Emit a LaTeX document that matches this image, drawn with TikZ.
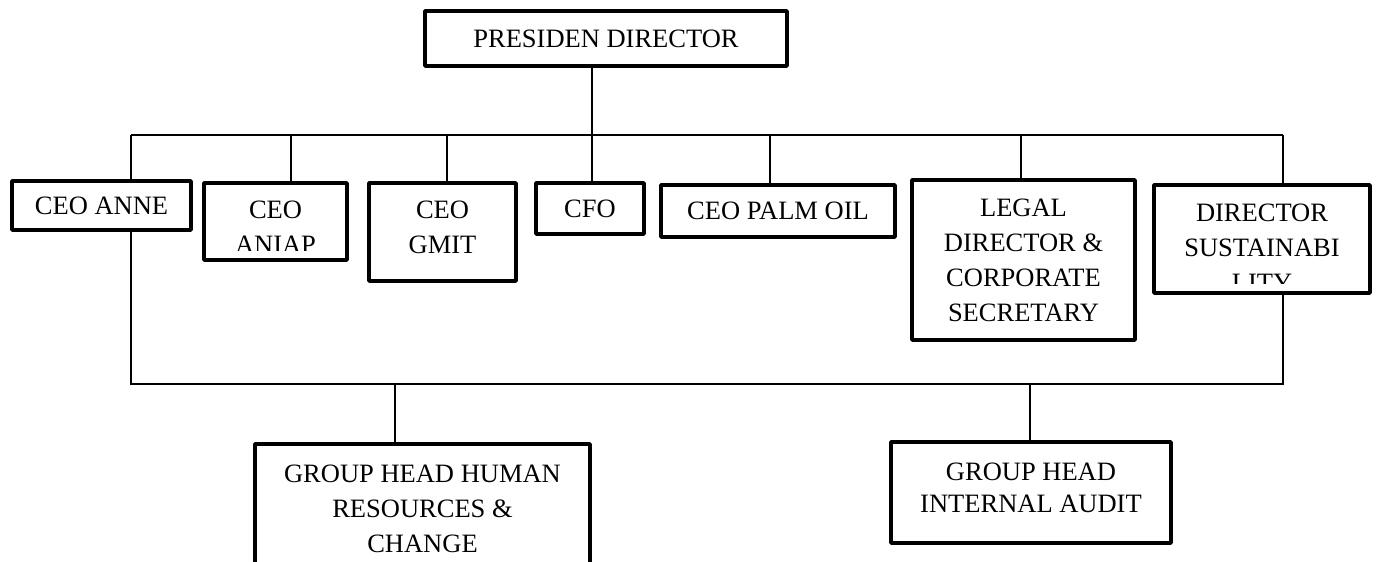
\documentclass[tikz,border=0pt]{standalone}
\usepackage{fontspec}
\setmainfont{Liberation Serif}
\usepackage{tikz}
\newcommand{\dropline}[2]{
\draw[link] (#1) -- (#1 |- #2);
}
\tikzset{
orgbox/.style={draw, line width=4.4pt, line join=round, inner sep=0pt, align=center,
  font=\fontsize{26.5}{35}\selectfont},
orgtext/.style={inner sep=0pt, align=center, anchor=north, font=\fontsize{26.5}{35}\selectfont},
link/.style={line width=1.7pt}
}

\begin{document}
\begin{tikzpicture}[x=1pt, y=-1pt]
\useasboundingbox (0, 0) rectangle (1379, 562);
\clip (0, 0) rectangle (1379, 562);
% boxes
\node[orgbox, minimum width=361.6pt, minimum height=54.6pt] at (606, 38.5) (pres) {PRESIDEN DIRECTOR};
\node[orgbox, minimum width=178.6pt, minimum height=48.6pt] at (101.5, 205.5) (anne) {CEO ANNE};
\node[orgbox, minimum width=142.6pt, minimum height=76.6pt] at (275.5, 221.5) (aniap) {};
\node[orgbox, minimum width=146.6pt, minimum height=97.6pt, text depth=9pt] at (442.5, 232) (gmit) {CEO\\GMIT};
\node[orgbox, minimum width=107.6pt, minimum height=50.6pt] at (590, 208.5) (cfo) {CFO};
\node[orgbox, minimum width=233.6pt, minimum height=51.6pt] at (778, 211) (palm) {CEO PALM OIL};
\node[orgbox, minimum width=222.6pt, minimum height=159.6pt] at (1023.5, 260) (legal) {LEGAL\\DIRECTOR \&\\CORPORATE\\SECRETARY};
\node[orgbox, minimum width=215.6pt, minimum height=107.6pt] at (1262, 239) (sust) {};
\node[orgbox, minimum width=334.6pt, minimum height=129.6pt] at (422.5, 509) (human) {GROUP HEAD HUMAN\\RESOURCES \&\\CHANGE};
\node[orgbox, minimum width=279.6pt, minimum height=100.6pt, text depth=10pt,
  font=\fontsize{26.5}{31.8}\selectfont] at (1031, 492.5) (audit) {GROUP HEAD\\INTERNAL AUDIT};
% texts cut off by their boxes
\begin{scope}
\clip (204, 183) rectangle (347, 250);
\node[orgtext] at (275.5, 201) (aniaptext) {CEO\\ANIAP};
\end{scope}
\begin{scope}
\clip (1154, 185) rectangle (1370, 283);
\node[orgtext] at (1262, 204) (susttext) {DIRECTOR\\SUSTAINABI\\LITY};
\end{scope}
% top bus
\coordinate (t1) at (131, 135);
\coordinate (t2) at (291, 135);
\coordinate (t3) at (447, 135);
\coordinate (t4) at (592, 135);
\coordinate (t5) at (770, 135);
\coordinate (t6) at (1021, 135);
\coordinate (t7) at (1283, 135);
\draw[link] (t4 |- pres.south) -- (t4);
\draw[link] (t1) -- (t7);
\dropline{t1}{anne.north}
\dropline{t2}{aniap.north}
\dropline{t3}{gmit.north}
\dropline{t4}{cfo.north}
\dropline{t5}{palm.north}
\dropline{t6}{legal.north}
\dropline{t7}{sust.north}
% bottom bus
\coordinate (b1) at (131, 384);
\coordinate (b2) at (1283, 384);
\coordinate (h1) at (395, 384);
\coordinate (h2) at (1030, 384);
\draw[link] (b1 |- anne.south) -- (b1) -- (b2) -- (b2 |- sust.south);
\dropline{h1}{human.north}
\dropline{h2}{audit.north}
\end{tikzpicture}
\end{document}
